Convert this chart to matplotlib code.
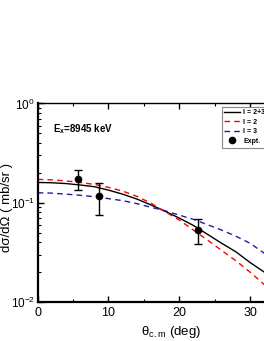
import numpy as np
import matplotlib
matplotlib.use('Agg')
import matplotlib.pyplot as plt
from matplotlib.lines import Line2D

plt.rcParams['font.family'] = ['Liberation Sans', 'DejaVu Sans']
plt.rcParams['mathtext.fontset'] = 'custom'
plt.rcParams['mathtext.rm'] = 'Liberation Sans'
plt.rcParams['mathtext.it'] = 'Liberation Sans:italic'
plt.rcParams['mathtext.bf'] = 'Liberation Sans:bold'

# calculated curves
theta = [0, 2, 4, 6, 8, 10, 12, 14, 16, 18, 20, 22, 24, 26, 28, 30, 32, 34]
l23 = [0.160, 0.159, 0.156, 0.151, 0.145, 0.134, 0.122, 0.109, 0.095, 0.082,
       0.070, 0.059, 0.048, 0.039, 0.032, 0.025, 0.020, 0.016]
l2 = [0.172, 0.170, 0.166, 0.160, 0.153, 0.143, 0.131, 0.116, 0.099, 0.081,
      0.067, 0.053, 0.042, 0.033, 0.026, 0.020, 0.015, 0.0115]
l3 = [0.126, 0.125, 0.122, 0.119, 0.115, 0.110, 0.105, 0.098, 0.090, 0.083,
      0.075, 0.068, 0.060, 0.053, 0.046, 0.039, 0.031, 0.026]

# experimental points
th_exp = [5.7, 8.6, 22.7]
xs_exp = [0.173, 0.116, 0.0536]
err_lo = [0.134, 0.0748, 0.0384]
err_hi = [0.214, 0.158, 0.069]

fig = plt.figure(figsize=(2.64, 3.41), dpi=100)
ax = fig.add_axes([0.1428, 0.1144, 1.0727, 0.5821])

h1, = ax.plot(theta, l23, '-', color='black', lw=1.0, label='l = 2+3')
h2, = ax.plot(theta, l2, '--', color='red', lw=1.0, dashes=(4, 3), label='l = 2')
h3, = ax.plot(theta, l3, '--', color='#1f1fa0', lw=1.0, dashes=(4, 3), label='l = 3')
yerr = [np.array(xs_exp) - np.array(err_lo), np.array(err_hi) - np.array(xs_exp)]
ax.errorbar(th_exp, xs_exp, yerr=yerr, fmt='o', color='black', ms=4.5,
            capsize=3, elinewidth=1.0, capthick=1.0)
h4 = Line2D([], [], ls='none', marker='o', color='black', ms=4.5, label='Expt.')

ax.set_yscale('log')
ax.set_xlim(0, 40)
ax.set_ylim(1e-2, 1)
ax.set_xticks([0, 10, 20, 30])
ax.set_xticks([5, 15, 25, 35], minor=True)
ax.tick_params(which='both', direction='in', top=True, right=True, labelsize=9)
ax.tick_params(which='major', length=4, width=1)
ax.tick_params(which='minor', length=2.5, width=0.8)
ax.tick_params(axis='y', pad=2, labelsize=8.5)
for s in ['left', 'bottom']:
    ax.spines[s].set_linewidth(1.6)
for s in ['top', 'right']:
    ax.spines[s].set_linewidth(1.0)

ax.set_xlabel(r'θ$_{\rm c.m}$ (deg)', fontsize=9.5)
ax.xaxis.set_label_coords(0.4707, -0.112)
ax.set_ylabel('dσ/dΩ ( mb/sr )', fontsize=9.5)
ax.yaxis.set_label_coords(-0.088, 0.476)

ax.text(0.053, 0.87, r'E$_\mathbf{x}$=8945 keV', transform=ax.transAxes,
        fontsize=7, fontweight='bold', va='center')

leg = ax.legend(handles=[h1, h2, h3, h4], loc='upper left',
                bbox_to_anchor=(221.7 / 264, 1 - 106.7 / 341),
                bbox_transform=fig.transFigure, borderaxespad=0, fancybox=False,
                edgecolor='#888888', framealpha=1, handlelength=2.3,
                handletextpad=0.4, labelspacing=0.35, borderpad=0.4,
                prop={'size': 5, 'weight': 'bold'})
leg.get_frame().set_linewidth(0.8)

fig.savefig('out.png', dpi=100)
